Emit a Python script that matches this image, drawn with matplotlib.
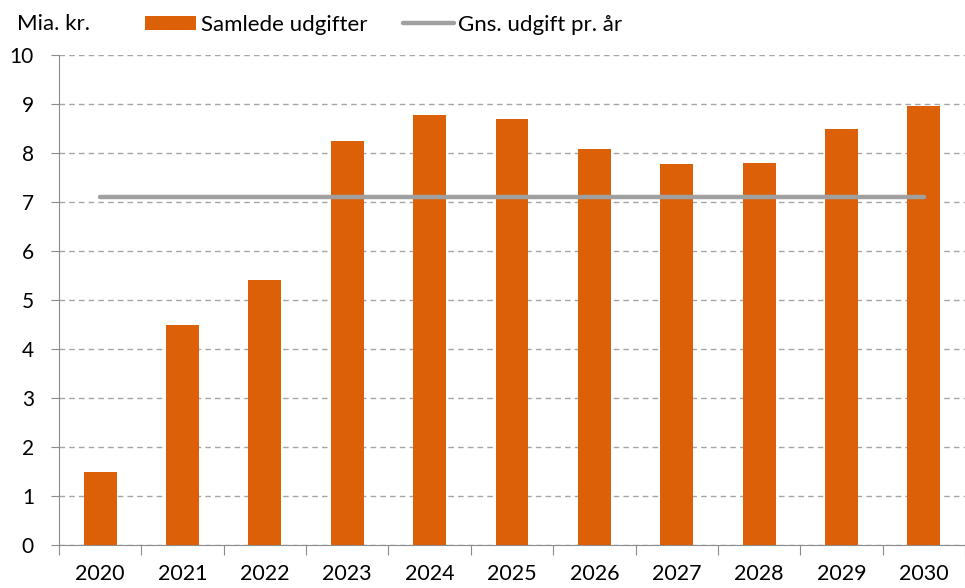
import matplotlib
matplotlib.use("Agg")
import matplotlib.pyplot as plt
from matplotlib.patches import Patch
from matplotlib.lines import Line2D

years = ["2020", "2021", "2022", "2023", "2024", "2025", "2026", "2027", "2028", "2029", "2030"]
udgifter = [1.49, 4.49, 5.41, 8.24, 8.78, 8.69, 8.08, 7.77, 7.79, 8.48, 8.95]
gennemsnit = 7.11
yticks = [0, 1, 2, 3, 4, 5, 6, 7, 8, 9, 10]

plt.rcParams['font.family'] = ['Lato', 'DejaVu Sans']

fig = plt.figure(figsize=(9.65, 5.88), dpi=100)
ax = fig.add_axes([59/965, 1 - 545/588, 906/965, 490/588])

x = list(range(len(years)))
ax.bar(x, udgifter, width=0.40, color='#DC6008', zorder=3)
ax.plot([x[0], x[-1]], [gennemsnit, gennemsnit], color='#A0A0A0', lw=3.2,
        solid_capstyle='round', zorder=4)

ax.set_xlim(-0.5, len(years) - 0.5)
ax.set_ylim(0, 10)
ax.set_yticks(yticks)
ax.set_yticklabels([str(v) for v in yticks], fontsize=15)
ax.yaxis.grid(True, color='#A6A6A6', linestyle=(0, (4, 3)), lw=1.0, zorder=0)
for s in ['top', 'right']:
    ax.spines[s].set_visible(False)
for s in ['left', 'bottom']:
    ax.spines[s].set_color('#8C8C8C')
ax.tick_params(axis='y', length=6, color='#8C8C8C', pad=12)

ax.set_xticks([i + 0.5 for i in range(-1, len(years))], minor=False)
ax.set_xticklabels([])
ax.tick_params(axis='x', which='major', length=7, color='#8C8C8C')
ax.set_xticks(x, minor=True)
ax.set_xticklabels(years, minor=True, fontsize=15.5)
ax.tick_params(axis='x', which='minor', length=0, pad=14)

fig.text(17/965, 1 - 24/588, "Mia. kr.", fontsize=16, va='center', ha='left')

handles = [Patch(facecolor='#DC6008', edgecolor='none'),
           Line2D([0], [0], color='#A0A0A0', lw=3.2, solid_capstyle='round')]
labels = ["Samlede udgifter", "Gns. udgift pr. år"]
fig.legend(handles, labels, loc='center left', bbox_to_anchor=(145/965, 1 - 25/588),
           ncol=2, frameon=False, fontsize=16, handlelength=2.3, handleheight=0.63,
           handletextpad=0.2, columnspacing=1.6, borderaxespad=0, borderpad=0)

fig.savefig("out.png", dpi=100)
